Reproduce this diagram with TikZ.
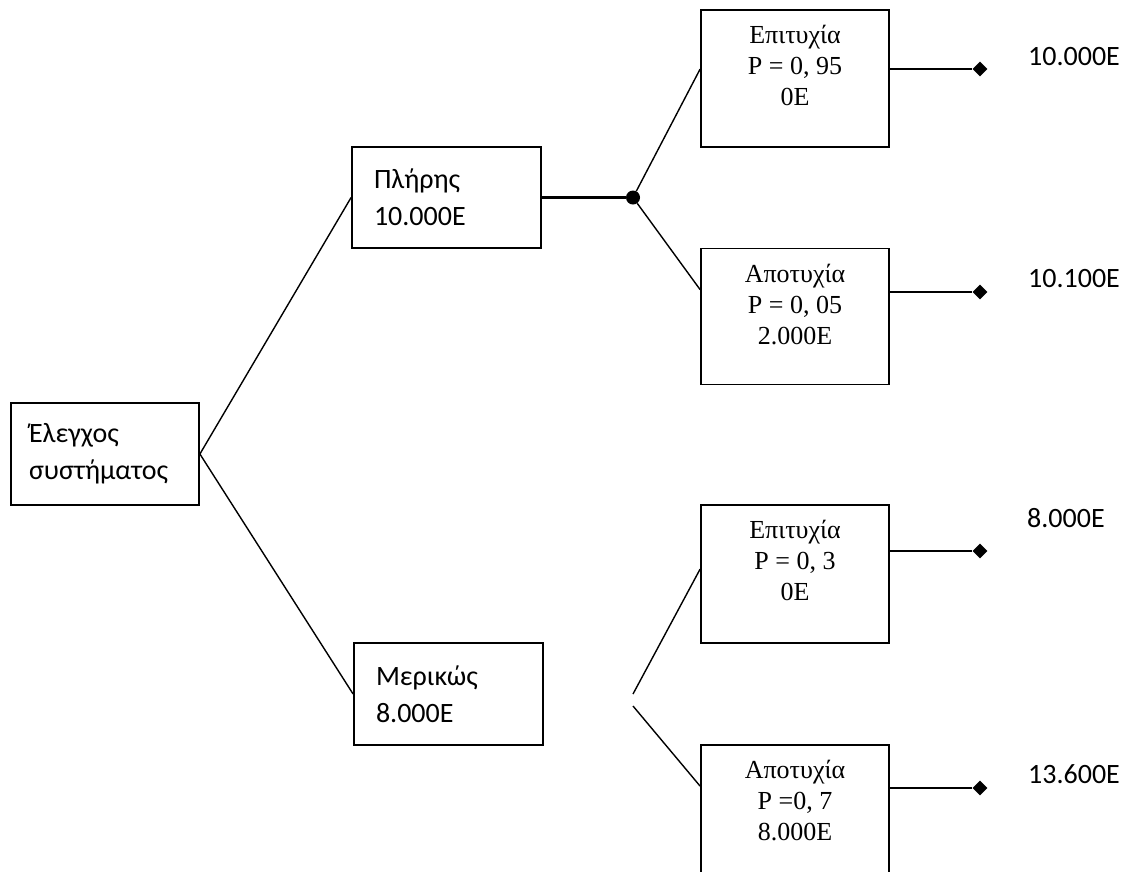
\documentclass[tikz,border=0pt]{standalone}
\usepackage{fontspec}
\setmainfont{Carlito}
\newfontfamily\tms{Liberation Serif}
\usetikzlibrary{positioning, shapes.geometric}

\begin{document}
\begin{tikzpicture}[x=1pt, y=-1pt,
choice/.style={draw, line width=1.8pt, align=left, inner xsep=22pt,
  text width=145pt, minimum width=189pt, minimum height=101pt,
  font=\fontsize{28}{37}\selectfont},
outcome/.style={draw, line width=1.8pt, minimum width=188pt,
  minimum height=137pt},
outtext/.style={inner sep=0pt, align=center,
  font=\fontsize{26}{31}\selectfont\tms},
tip/.style={diamond, fill, inner sep=0pt, minimum size=15pt},
chance/.style={circle, fill, inner sep=0pt, minimum size=14pt},
value/.style={anchor=base west, inner sep=0pt,
  font=\fontsize{28}{34}\selectfont},
branch/.style={line width=1.4pt},
leg/.style={line width=2.2pt}]

\useasboundingbox (0,0) rectangle (1128,871);
\clip (0,0) rectangle (1128,871);

\node[choice, inner xsep=18pt, text width=152pt, minimum width=188pt,
  minimum height=102pt] (root) at (105,454) {Έλεγχος\\συστήματος};
\node[choice] (ful) at (446.5,197.5) {Πλήρης\\10.000E};
\node[choice, minimum height=102pt] (part) at (448.5,694) {Μερικώς\\8.000E};

\node[chance] (d1) at (633,197.5) {};
\coordinate (p2u) at (633,694);
\coordinate (p2d) at (633,706);

\node[outcome] (s1) at (795,78.5) {};
\node[outcome, minimum height=136pt] (f1) at (795,316.5) {};
\node[outcome, minimum height=138pt] (s2) at (795,574) {};
\node[outcome] (f2) at (795,813.5) {};

\node[outtext, below=16pt of s1.north] (s1t) {Επιτυχία\\ P = 0, 95\\0E};
\node[outtext, below=16pt of f1.north] (f1t) {Αποτυχία\\P = 0, 05\\2.000E};
\node[outtext, below=16pt of s2.north] (s2t) {Επιτυχία\\P = 0, 3\\0E};
\node[outtext, below=16pt of f2.north] (f2t) {Αποτυχία\\P =0, 7\\8.000E};

\node[tip] (e1) at (980,69) {};
\node[tip] (e2) at (980,292) {};
\node[tip] (e3) at (980,551) {};
\node[tip] (e4) at (980,788) {};

\node[value] (v1) at (1028,65) {10.000E};
\node[value] (v2) at (1028,287) {10.100E};
\node[value] (v3) at (1027,527) {8.000E};
\node[value] (v4) at (1028,783) {13.600E};

\draw[branch] (root.east) -- (ful.west);
\draw[branch] (root.east) -- (part.west);
\draw[leg] (ful.east) -- (d1);
\draw[branch] (d1) -- ([yshift=-60pt]s1.north west);
\draw[branch] (d1) -- ([yshift=-42pt]f1.north west);
\draw[branch] (p2u) -- ([yshift=-65pt]s2.north west);
\draw[branch] (p2d) -- ([yshift=-42pt]f2.north west);

\draw[leg] (s1.east |- e1) -- (e1);
\draw[leg] (f1.east |- e2) -- (e2);
\draw[leg] (s2.east |- e3) -- (e3);
\draw[leg] (f2.east |- e4) -- (e4);
\end{tikzpicture}
\end{document}
